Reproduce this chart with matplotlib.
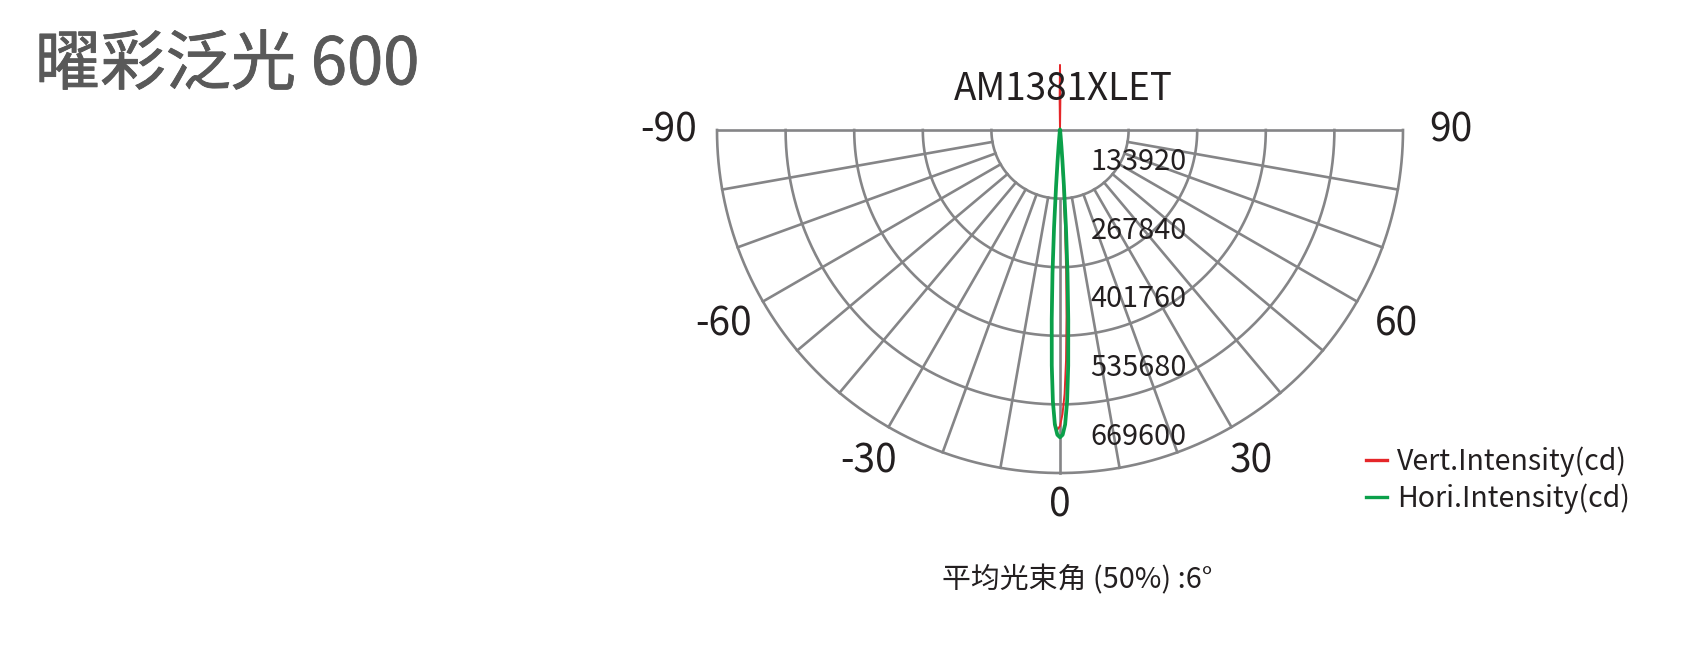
import numpy as np
import matplotlib
matplotlib.use("Agg")
import matplotlib.pyplot as plt
import matplotlib.patheffects as pe
from matplotlib.lines import Line2D

plt.rcParams['font.family'] = ['Noto Sans CJK SC', 'DejaVu Sans']

# data
ring_values = [133920, 267840, 401760, 535680, 669600]
angle_ticks = [-90, -60, -30, 0, 30, 60, 90]

hori_angles = [-90, -60, -40, -30, -20, -15, -10, -8, -6, -5, -4.5, -4, -3.5, -3, -2.5, -2, -1.5, -1, -0.5,
               0, 0.5, 1, 1.5, 2, 2.5, 3, 3.5, 4, 4.5, 5, 6, 8, 10, 15, 20, 30, 40, 60, 90]
hori_values = [0, 50, 200, 400, 700, 1200, 2000, 4000, 12000, 32000, 60000, 110000, 190000, 280000, 370000,
               460000, 530000, 575000, 595000,
               600000, 595000, 575000, 530000, 460000, 370000, 280000, 190000, 110000, 60000, 32000,
               12000, 4000, 2000, 1200, 700, 400, 200, 50, 0]

vert_angles = [-90, -60, -40, -30, -20, -15, -10, -8, -6, -5, -4.5, -4, -3.5, -3, -2.5, -2, -1.5, -1, -0.5,
               0, 0.5, 1, 1.5, 2, 2.5, 3, 3.5, 4, 4.5, 5, 6, 8, 10, 15, 20, 30, 40, 60, 90,
               175, 179.3, 180, 180.7, 185]
vert_values = [0, 50, 200, 400, 700, 1200, 2200, 4500, 14000, 36000, 68000, 120000, 205000, 295000, 385000,
               470000, 535000, 572000, 585000,
               578000, 555000, 515000, 450000, 365000, 275000, 185000, 105000, 58000, 30000, 18000,
               8000, 3500, 1800, 1000, 600, 350, 180, 40, 0,
               0, 60000, 127000, 60000, 0]

title = "曜彩泛光 600"
model = "AM1381XLET"
note = "平均光束角 (50%) :6°"
legend_labels = ["Vert.Intensity(cd)", "Hori.Intensity(cd)"]

red = "#E52629"
green = "#0BA04A"
gray = "#858587"
ink = "#231F20"

W, H = 1704, 656
fig = plt.figure(figsize=(W / 100, H / 100), dpi=100)

# polar axes, centre at (1060, 130) px, radius 343 px
R, cx, cy = 343, 1060, 130
ax = fig.add_axes([(cx - R) / W, (H - cy - R) / H, 2 * R / W, 2 * R / H], projection='polar')
ax.set_theta_zero_location('S')
ax.grid(False)
ax.set_xticks([])
ax.set_yticks([])
ax.spines['polar'].set_visible(False)
ax.patch.set_visible(False)

rmax = ring_values[-1]
glw = 1.9

# rings
arc = np.linspace(-np.pi / 2, np.pi / 2, 400)
for v in ring_values:
    ax.plot(arc, np.full_like(arc, v), color=gray, lw=glw, zorder=1, clip_on=False)

# spokes from the inner ring outwards
for a in range(-80, 90, 10):
    ax.plot([np.deg2rad(a)] * 2, [ring_values[0], rmax], color=gray, lw=glw, zorder=1, clip_on=False)
for a in (-90, 90):
    ax.plot([np.deg2rad(a)] * 2, [0, rmax], color=gray, lw=glw, zorder=1, clip_on=False,
            solid_capstyle='butt')

# intensity curves
ax.plot(np.deg2rad(vert_angles), vert_values, color=red, lw=1.4, zorder=3)
ax.plot(np.deg2rad(hori_angles), hori_values, color=green, lw=2.7, zorder=4)
ax.set_ylim(0, rmax)

# angle labels
for a in angle_ticks:
    t = np.deg2rad(a)
    r = rmax * (1.095 + 0.045 * abs(np.sin(t)))
    ax.text(t, r, str(a), ha='center', va='center', fontsize=28, color=ink)

# ring value labels
step = ring_values[1] - ring_values[0]
for v in ring_values:
    ax.annotate(str(v), xy=(0, v - 0.53 * step), xytext=(22, 0), textcoords='offset points',
                ha='left', va='center', fontsize=20.8, color=ink, zorder=5)

fig.text(1063 / W, 1 - 89 / H, model, ha='center', va='center', fontsize=26.5, color=ink)
fig.text(35 / W, 1 - 66 / H, title, ha='left', va='center', fontsize=47, color='#595959',
         path_effects=[pe.withStroke(linewidth=0.6, foreground='#595959')])
fig.text(1077 / W, 1 - 580 / H, note, ha='center', va='center', fontsize=20.8, color=ink)

handles = [Line2D([], [], color=red, lw=2.4), Line2D([], [], color=green, lw=2.4)]
fig.legend(handles, legend_labels, loc='center left', bbox_to_anchor=(1366 / W, 1 - 480 / H),
           frameon=False, fontsize=20.5, handlelength=0.75, handletextpad=0.35, labelspacing=0.22,
           borderpad=0, borderaxespad=0, labelcolor=ink)

fig.savefig("out.png", dpi=100)
